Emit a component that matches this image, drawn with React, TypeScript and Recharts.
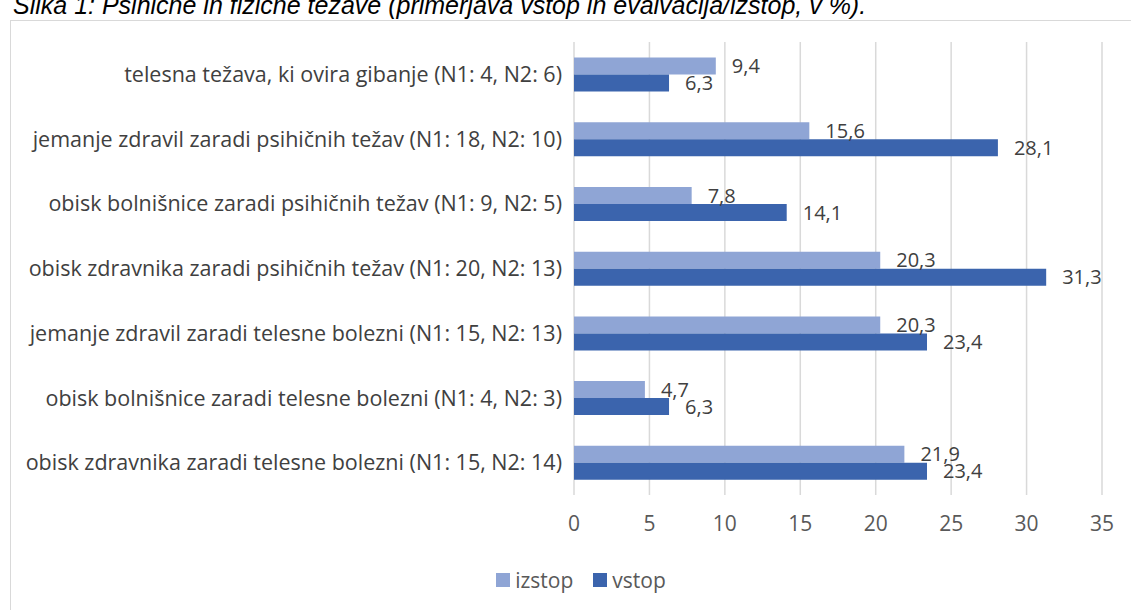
import React from "react";
import {
  Bar,
  BarChart,
  CartesianGrid,
  LabelList,
  Legend,
  XAxis,
  YAxis,
} from "recharts";

const CATEGORIES = [
  "telesna težava, ki ovira gibanje (N1: 4, N2: 6)",
  "jemanje zdravil zaradi psihičnih težav (N1: 18, N2: 10)",
  "obisk bolnišnice zaradi psihičnih težav (N1: 9, N2: 5)",
  "obisk zdravnika zaradi psihičnih težav (N1: 20, N2: 13)",
  "jemanje zdravil zaradi telesne bolezni (N1: 15, N2: 13)",
  "obisk bolnišnice zaradi telesne bolezni (N1: 4, N2: 3)",
  "obisk zdravnika zaradi telesne bolezni (N1: 15, N2: 14)",
];
const IZSTOP = [9.4, 15.6, 7.8, 20.3, 20.3, 4.7, 21.9];
const VSTOP = [6.3, 28.1, 14.1, 31.3, 23.4, 6.3, 23.4];
const X_TICKS = [0, 5, 10, 15, 20, 25, 30, 35];

const IZSTOP_COLOR = "#8FA5D5";
const VSTOP_COLOR = "#3B64AD";
const FONT = "'Open Sans', 'Noto Sans', sans-serif";

const data = CATEGORIES.map((name, i) => ({
  name,
  izstop: IZSTOP[i],
  vstop: VSTOP[i],
}));

const fmt = (v: any) => Number(v).toFixed(1).replace(".", ",");

function LegendContent({ payload }: any) {
  return (
    <div style={{ display: "flex", justifyContent: "center", gap: 20, fontFamily: FONT, fontSize: 21, color: "#595959" }}>
      {(payload || []).map((p: any) => (
        <div key={p.value} style={{ display: "flex", alignItems: "center", gap: 5 }}>
          <span style={{ width: 14, height: 14, background: p.color, display: "inline-block" }} />
          <span>{p.value}</span>
        </div>
      ))}
    </div>
  );
}

export default function App() {
  return (
    <div style={{ position: "absolute", left: 0, top: 0, width: 1131, height: 610, overflow: "hidden", background: "#fff" }}>
      <div
        style={{
          position: "absolute",
          left: 13,
          top: -9,
          fontFamily: "'Liberation Sans', Arial, sans-serif",
          fontStyle: "italic",
          fontSize: 25,
          color: "#000",
          whiteSpace: "nowrap",
        }}
      >
        Slika 1: Psihične in fizične težave (primerjava vstop in evalvacija/izstop, v %).
      </div>
      <div style={{ position: "absolute", left: 10, top: 20, width: 1166, height: 600, border: "1px solid #D9D9D9", boxSizing: "border-box" }} />
      <div style={{ position: "absolute", left: 10, top: 20 }}>
        <BarChart
          width={1166}
          height={590}
          data={data}
          layout="vertical"
          margin={{ top: 22, right: 74, left: 0, bottom: 20 }}
          barCategoryGap="24%"
          barGap={0}
        >
          <CartesianGrid horizontal={false} stroke="#D9D9D9" strokeWidth={1.5} />
          <XAxis
            type="number"
            domain={[0, 35]}
            ticks={X_TICKS}
            axisLine={false}
            tickLine={false}
            tickMargin={15}
            height={71}
            tick={{ fontSize: 21, fill: "#595959", fontFamily: FONT }}
          />
          <YAxis
            type="category"
            dataKey="name"
            width={564}
            axisLine={false}
            tickLine={false}
            tickMargin={6}
            interval={0}
            tick={{ fontSize: 21.5, fill: "#404040", fontFamily: FONT }}
          />
          <Legend verticalAlign="bottom" content={<LegendContent />} height={24} wrapperStyle={{ left: 25 }} />
          <Bar dataKey="izstop" name="izstop" fill={IZSTOP_COLOR} isAnimationActive={false}>
            <LabelList dataKey="izstop" position="right" offset={16} formatter={fmt} style={{ fontSize: 20, fill: "#404040", fontFamily: FONT }} />
          </Bar>
          <Bar dataKey="vstop" name="vstop" fill={VSTOP_COLOR} isAnimationActive={false}>
            <LabelList dataKey="vstop" position="right" offset={16} formatter={fmt} style={{ fontSize: 20, fill: "#404040", fontFamily: FONT }} />
          </Bar>
        </BarChart>
      </div>
    </div>
  );
}
